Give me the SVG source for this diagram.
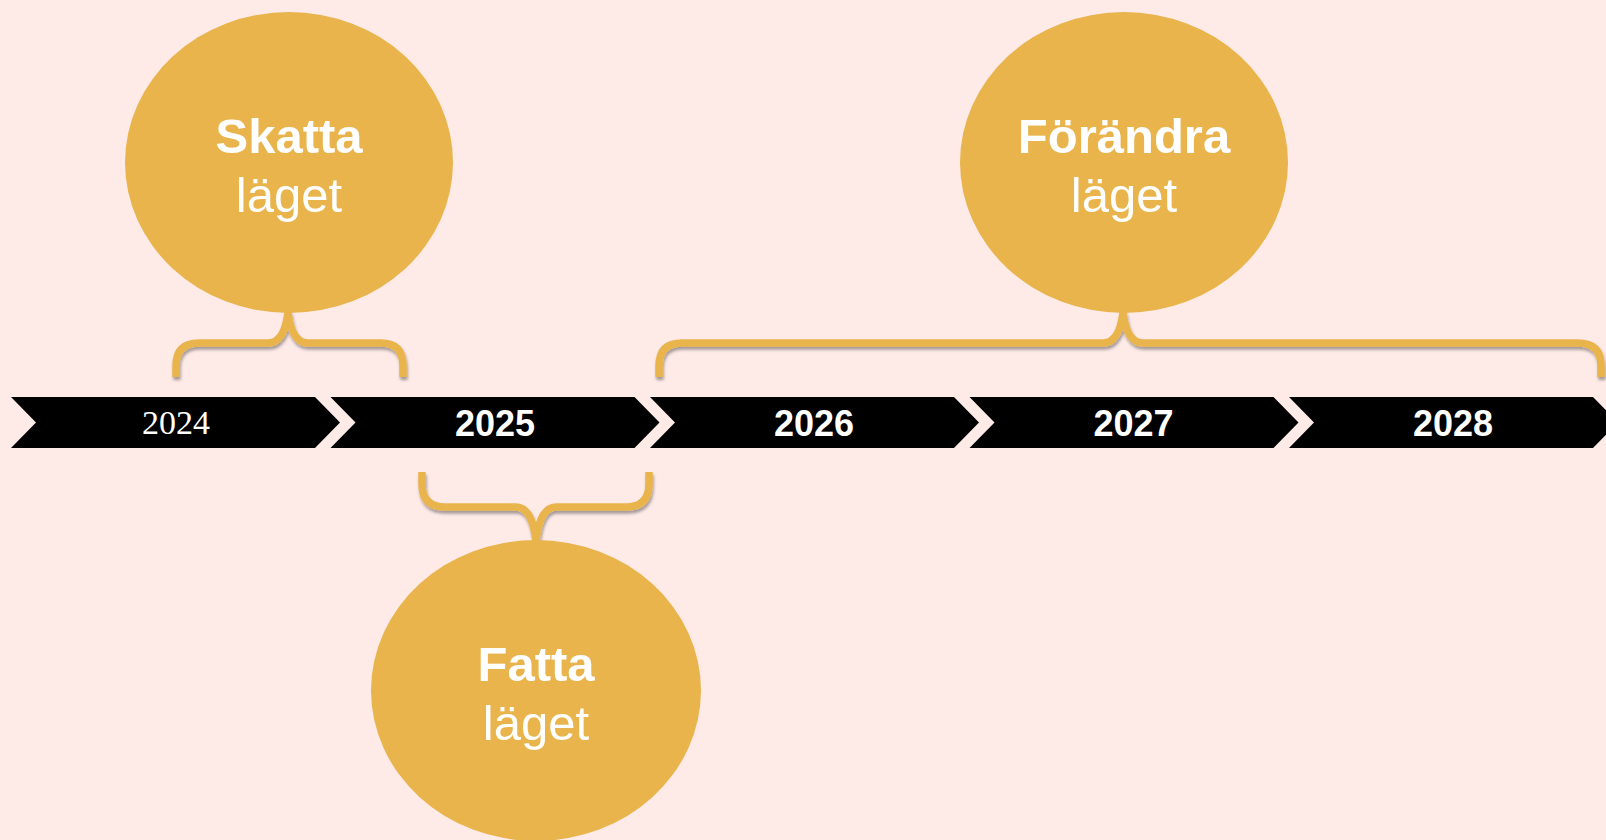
<svg xmlns="http://www.w3.org/2000/svg" width="1606" height="840" viewBox="0 0 1606 840">
<style>
.bg{fill:#FEEBE8}
.chev{fill:#000000}
.yr{fill:#FFFFFF;font-family:"Liberation Sans",Arial,sans-serif;font-weight:bold;font-size:36px;text-anchor:middle}
.yrs{fill:#FFFFFF;font-family:"Liberation Serif","Times New Roman",serif;font-size:34px;text-anchor:middle}
.circ{fill:#E9B44C}
.t1{fill:#FFFFFF;font-family:"Liberation Sans",Arial,sans-serif;font-weight:bold;font-size:49px;text-anchor:middle}
.t2{fill:#FFFFFF;font-family:"Liberation Sans",Arial,sans-serif;font-size:49px;text-anchor:middle}
.br{fill:none;stroke:#E9B44C;stroke-width:7.5;stroke-linejoin:round;filter:url(#sh)}
</style>
<defs>
<filter id="sh" x="-5%" y="-30%" width="110%" height="160%">
<feDropShadow dx="1" dy="3" stdDeviation="1.8" flood-color="#000" flood-opacity="0.35"/>
</filter>
</defs>
<rect class="bg" x="0" y="0" width="1606" height="840"/>
<g id="timeline">
<g id="y2024"><path class="chev" d="M11,397 H315 L340,422.5 L315,448 H11 L36,422.5 Z"/><text class="yrs" x="176" y="434">2024</text></g>
<g id="y2025"><path class="chev" d="M330.5,397 H634.5 L659.5,422.5 L634.5,448 H330.5 L355.5,422.5 Z"/><text class="yr" x="495" y="436">2025</text></g>
<g id="y2026"><path class="chev" d="M650,397 H954 L979,422.5 L954,448 H650 L675,422.5 Z"/><text class="yr" x="814" y="436">2026</text></g>
<g id="y2027"><path class="chev" d="M969.5,397 H1273.5 L1298.5,422.5 L1273.5,448 H969.5 L994.5,422.5 Z"/><text class="yr" x="1133.5" y="436">2027</text></g>
<g id="y2028"><path class="chev" d="M1289,397 H1593 L1618,422.5 L1593,448 H1289 L1314,422.5 Z"/><text class="yr" x="1453" y="436">2028</text></g>
</g>
<g id="connectors">
<path class="br" d="M176,377 V366 Q176,343 199,343 H268 Q284,343 288,313 Q292,343 308,343 H381 Q403,343 403,366 V377"/>
<path class="br" d="M422,472 V484 Q422,507 445,507 H516 Q532,507 536,541 Q540,507 556,507 H626 Q649,507 649,484 V472"/>
<path class="br" d="M659,377 V366 Q659,343 682,343 H1103 Q1119,343 1123,313 Q1127,343 1143,343 H1578 Q1601,343 1601,366 V377"/>
</g>
<g id="skatta"><ellipse class="circ" cx="289" cy="162.5" rx="164" ry="150.5"/><text class="t1" x="289" y="153">Skatta</text><text class="t2" x="289" y="212">läget</text></g>
<g id="fatta"><ellipse class="circ" cx="536" cy="690.5" rx="165" ry="150.5"/><text class="t1" x="536" y="681">Fatta</text><text class="t2" x="536" y="740">läget</text></g>
<g id="forandra"><ellipse class="circ" cx="1124" cy="162.5" rx="164" ry="150.5"/><text class="t1" x="1124" y="153">Förändra</text><text class="t2" x="1124" y="212">läget</text></g>
</svg>
